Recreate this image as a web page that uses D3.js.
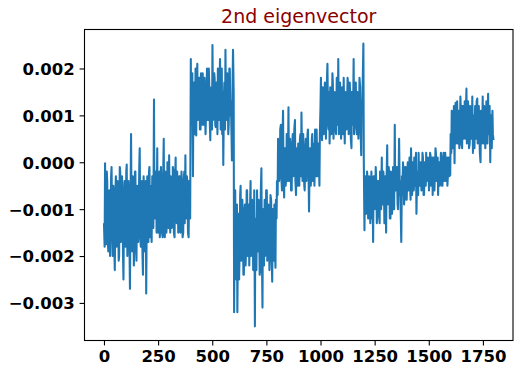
<!DOCTYPE html>
<html>
<head>
<meta charset="utf-8">
<script src="https://cdn.jsdelivr.net/npm/d3@7"></script>
<style>
  html, body { margin: 0; padding: 0; background: #fff; }
  svg { display: block; }
</style>
</head>
<body>
<svg id="chart" width="523" height="373"></svg>
<script>
// ---- data (in units of 1e-5) ----
const chartTitle = "2nd eigenvector";
const pointCount = 1800;
const valuesE5 = [
  // 0 - 400
  -130,-180, -2,-150, -175,-20, -40,-170, -190,-80, -60,-200, -150,-30, -10,-140, -200,-50, -70,-190,
  -230,-60, -30,-180, -160,-40, -90,-210, -200,-10, -20,-170, -140,-30, -60,-200, -250,-70, -40,-160,
  -180,-20, -5,-200, -150,-40, -80,-190, -270,-60, 60,-150, -190,-30, -50,-220, -170,-20, -20,-180,
  -210,-50, -70,-170, -140,-10, 30,-160, -180,-60, -40,-200, -240,-30, -60,-190, -130,-40, -280,-90,
  -30,-150, -170,-20, -10,-160, -140,-50, -170,-30, -50,-140, 134,-100, -120,-20, -40,-150, 30,-130,
  -150,-30, -20,-160, -110,-10, -60,-150, -160,-40, 50,-120, -160,-20, -40,-150, -130,0, -10,-140,
  15,-100, -150,-30, -50,-140, -120,-10, -20,-150, -160,-40, 10,-120, -130,-20, -60,-150, -140,-30,
  -30,-150, -110,-20, -70,-160, -150,-40, -20,-130, 15,-110, -120,-30, -50,-150, -160,-40, -60,-120,
  // 400 - 600
  220,80, 90,190, -30,150, 170,60, 120,200, 57,170, 210,90, 100,180, 180,70, 70,190,
  150,80, 190,100, 80,180, 140,60, 100,170, 200,90, 90,200, 170,80, 47,150, 160,70,
  250,90, 110,190, 180,80, 75,170, 150,60, 200,110, 90,180, 220,70, 130,200, 60,150,
  -6,140, 170,70, 240,90, 100,190, 180,60, 80,200, 200,100, 130,60, 4,170, 240,150,
  // 600 - 800
  -320,-100, -60,-230, -250,-90, -320,-150, -110,-250, -200,-70, -50,-210, -180,-80, -130,-240, -240,-100,
  -90,-220, -190,-60, -60,-200, -150,-90, -220,-110, -40,-200, -170,-80, -100,-230, -200,-60, -350,-130,
  -120,-230, -60,-190, -190,-80, -140,-240, -230,-70, -13,-180, -310,-100, -120,-220, -80,-200, -180,-60,
  -60,-210, -200,-90, -110,-230, -170,-70, -80,-200, -255,-100, -130,-210, -90,-180, -225,-80, -120,-40,
  // 800 - 1000
  -70,50, 40,-40, -20,70, 80,-30, -60,40, 110,-20, -75,30, 30,-50, -30,60, 50,-40,
  117,-10, -40,50, 20,-60, -60,40, 60,-30, -20,70, 90,-40, -70,30, 10,-50, 40,-20,
  -50,50, 60,-30, 106,0, -40,60, 20,-50, -60,30, 50,-40, 0,60, 70,-30, -105,20,
  30,-50, -30,50, 60,-40, -20,40, -50,70, 40,-30, 70,-20, -30,40, 20,-50, 60,120,
  // 1000 - 1200
  180,70, 47,160, 130,60, 90,170, 160,50, 110,180, 210,80, 70,150, 40,160, 150,60,
  100,190, 170,50, 80,150, 130,70, 60,180, 140,80, 220,60, 90,170, 150,50, 70,160,
  120,60, 180,90, 40,150, 140,70, 100,180, 160,60, 70,170, 130,50, 30,150, 150,80,
  220,60, 90,170, 170,80, 60,150, 140,50, 100,180, 160,70, 15,130, 120,170, 253,0,
  // 1200 - 1600
  -145,-40, -30,-110, -90,-20, -40,-120, -110,-30, -60,-130, -80,-20, -120,-50, -170,-30, -30,-100,
  -70,-10, -50,-130, -100,-40, -40,-110, -130,-20, -60,-100, 10,-80, -90,-20, -40,-130, -110,-30,
  -150,-40, 36,-90, -70,-10, -30,-120, -120,-20, -50,-110, -90,-10, -20,-100, 80,-60, -60,-10,
  -10,-90, -100,-20, 50,-70, -40,-120, -170,-30, -70,0, -20,-90, -60,-10, -10,-80, -80,-20,
  0,-60, -50,10, -40,-80, 30,-50, -70,0, -10,-60, 10,-50, -30,20, -110,-30, -20,-70,
  20,-50, -50,0, 0,-60, -40,20, 10,-70, -70,0, -20,-50, 20,-40, -30,10, 0,-60,
  -40,20, 15,-50, -20,10, -70,-10, 10,-60, -30,30, 20,-40, -20,10, -70,0, 0,-50,
  -30,20, 10,-50, -50,0, 20,-40, -10,20, -40,0, 10,-50, -20,10, -30,0, -28,60,
  // 1600 - 1799
  20,110, 90,30, 60,120, -2,90, 127,40, 70,130, 40,100, 110,30, 60,140, 100,40,
  30,120, 120,50, 80,130, 50,100, 157,40, 70,130, 100,30, 40,120, 110,50, 60,140,
  20,100, 90,30, 120,60, 50,130, 136,40, 80,120, 60,20, 0,110, 100,40, 140,60,
  40,120, 90,30, 60,130, 120,40, 146,60, 70,120, 0,100, 100,30, 110,60, 47
];
const xTickValues = [0, 250, 500, 750, 1000, 1250, 1500, 1750];
const yTickValues = [-0.003, -0.002, -0.001, 0.000, 0.001, 0.002];

const values = valuesE5.map(v => v * 1e-5);
const sampleIndex = values.map((v, i) => Math.round(i * (pointCount - 1) / (values.length - 1)));
const series = values.map((v, i) => ({ x: sampleIndex[i], y: v }));

// ---- layout ----
const svg = d3.select("#chart");
const plotLeft = 84.5, plotRight = 513, plotTop = 29.5, plotBottom = 340.5;

const xMax = pointCount - 1;
const x = d3.scaleLinear()
  .domain([-0.05 * xMax, xMax * 1.05])
  .range([plotLeft, plotRight]);

const [yMin, yMax] = d3.extent(values);
const pad = (yMax - yMin) * 0.05;
const y = d3.scaleLinear()
  .domain([yMin - pad, yMax + pad])
  .range([plotBottom, plotTop]);

const tickFont = "'DejaVu Sans', sans-serif";

// line
svg.append("path")
  .datum(series)
  .attr("fill", "none")
  .attr("stroke", "#1f77b4")
  .attr("stroke-width", 2.08)
  .attr("stroke-linejoin", "round")
  .attr("d", d3.line().x(d => x(d.x)).y(d => y(d.y)));

// axes
const xAxis = d3.axisBottom(x).tickValues(xTickValues).tickFormat(d3.format("d"))
  .tickSize(4.9).tickPadding(5);
const gx = svg.append("g").attr("transform", `translate(0,${plotBottom})`).call(xAxis);

const yAxis = d3.axisLeft(y).tickValues(yTickValues).tickFormat(d3.format(".3f"))
  .tickSize(4.9).tickPadding(4.9);
const gy = svg.append("g").attr("transform", `translate(${plotLeft},0)`).call(yAxis);

[gx, gy].forEach(g => {
  g.select(".domain").remove();
  g.selectAll(".tick line").attr("stroke", "#000").attr("stroke-width", 1.1);
  g.selectAll(".tick text")
    .attr("fill", "#000")
    .style("font-family", tickFont)
    .style("font-weight", "bold")
    .style("font-size", "16.5px");
});
gx.selectAll(".tick text").attr("dy", "0.72em");
gy.selectAll(".tick text").attr("dy", "0.36em");

// frame
svg.append("rect")
  .attr("x", plotLeft).attr("y", plotTop)
  .attr("width", plotRight - plotLeft).attr("height", plotBottom - plotTop)
  .attr("fill", "none")
  .attr("stroke", "#000")
  .attr("stroke-width", 1.1);

// title
svg.append("text")
  .attr("x", (plotLeft + plotRight) / 2)
  .attr("y", 22.5)
  .attr("text-anchor", "middle")
  .attr("fill", "#8b0000")
  .style("font-family", tickFont)
  .style("font-size", "19px")
  .text(chartTitle);
</script>
</body>
</html>
